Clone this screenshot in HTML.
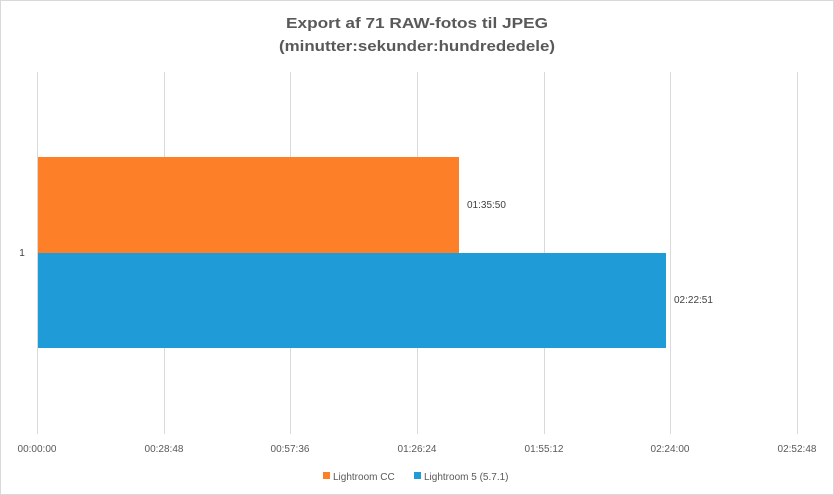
<!DOCTYPE html>
<html><head><meta charset="utf-8"><style>
body{margin:0;background:#fff}
svg{display:block;font-family:"Liberation Sans",sans-serif}
</style></head><body>
<svg width="834" height="495" viewBox="0 0 834 495">
<rect x="0.5" y="0.5" width="833" height="494" fill="#fff" stroke="#d9d9d9"/>
<text x="417" y="28" text-anchor="middle" font-size="15" font-weight="bold" fill="#595959" textLength="262" lengthAdjust="spacingAndGlyphs">Export af 71 RAW-fotos til JPEG</text>
<text x="417" y="51" text-anchor="middle" font-size="15" font-weight="bold" fill="#595959" textLength="276" lengthAdjust="spacingAndGlyphs">(minutter:sekunder:hundrededele)</text>
<g stroke="#d9d9d9" stroke-width="1">
<line x1="37.5" y1="72" x2="37.5" y2="434"/>
<line x1="164.5" y1="72" x2="164.5" y2="434"/>
<line x1="290.5" y1="72" x2="290.5" y2="434"/>
<line x1="417.5" y1="72" x2="417.5" y2="434"/>
<line x1="544.5" y1="72" x2="544.5" y2="434"/>
<line x1="670.5" y1="72" x2="670.5" y2="434"/>
<line x1="797.5" y1="72" x2="797.5" y2="434"/>
</g>
<rect x="38" y="157" width="421" height="96" fill="#fd7f27"/>
<rect x="38" y="253" width="628" height="95" fill="#1f9cd8"/>
<g font-size="10" fill="#404040">
<text x="467" y="208">01:35:50</text>
<text x="674" y="303">02:22:51</text>
<text x="22" y="256" text-anchor="middle">1</text>
</g>
<g font-size="10" fill="#595959" text-anchor="middle">
<text x="37" y="452">00:00:00</text>
<text x="164" y="452">00:28:48</text>
<text x="290" y="452">00:57:36</text>
<text x="417" y="452">01:26:24</text>
<text x="544" y="452">01:55:12</text>
<text x="670" y="452">02:24:00</text>
<text x="797" y="452">02:52:48</text>
</g>
<rect x="323" y="472" width="7" height="7" fill="#fd7f27"/>
<text x="333" y="480" font-size="10" fill="#595959">Lightroom CC</text>
<rect x="414" y="472" width="7" height="7" fill="#1f9cd8"/>
<text x="424" y="480" font-size="10" fill="#595959">Lightroom 5 (5.7.1)</text>
</svg>
</body></html>
